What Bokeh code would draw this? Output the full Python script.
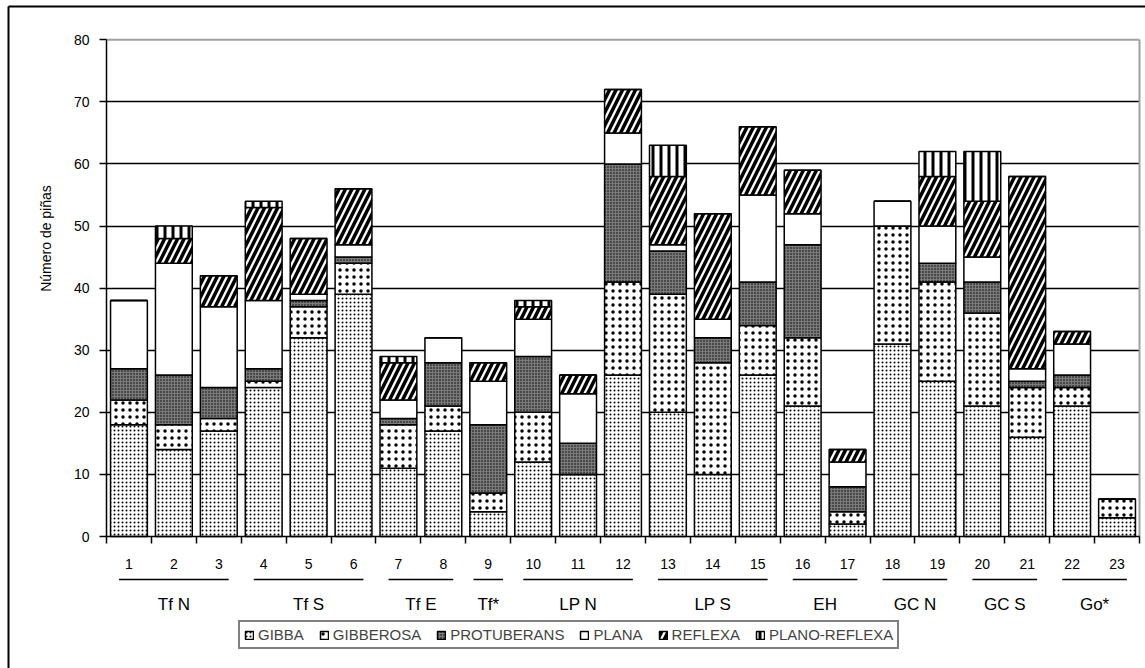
from bokeh.plotting import figure
from bokeh.models import ColumnDataSource, FixedTicker, Range1d, Legend, LegendItem
from bokeh.embed import file_html
from bokeh.resources import INLINE
from bokeh.core.properties import value
import math

# ---------------- data ----------------
sites = [str(i) for i in range(1, 24)]
gibba        = [18, 14, 17, 24, 32, 39, 11, 17, 4, 12, 10, 26, 20, 10, 26, 21, 2, 31, 25, 21, 16, 21, 3]
gibberosa    = [4, 4, 2, 1, 5, 5, 7, 4, 3, 8, 0, 15, 19, 18, 8, 11, 2, 19, 16, 15, 8, 3, 3]
protuberans  = [5, 8, 5, 2, 1, 1, 1, 7, 11, 9, 5, 19, 7, 4, 7, 15, 4, 0, 3, 5, 1, 2, 0]
plana        = [11, 18, 13, 11, 1, 2, 3, 4, 7, 6, 8, 5, 1, 3, 14, 5, 4, 4, 6, 4, 2, 5, 0]
reflexa      = [0, 4, 5, 15, 9, 9, 6, 0, 3, 2, 3, 7, 11, 17, 11, 7, 2, 0, 8, 9, 31, 2, 0]
plano_reflexa= [0, 2, 0, 1, 0, 0, 1, 0, 0, 1, 0, 0, 5, 0, 0, 0, 0, 0, 4, 8, 0, 0, 0]

series_names = ["GIBBA", "GIBBEROSA", "PROTUBERANS", "PLANA", "REFLEXA", "PLANO-REFLEXA"]
series_values = [gibba, gibberosa, protuberans, plana, reflexa, plano_reflexa]

groups      = ["Tf N", "Tf S", "Tf E", "Tf*", "LP N", "LP S", "EH", "GC N", "GC S", "Go*"]
group_first = [1, 4, 7, 9, 10, 13, 16, 18, 20, 22]
group_last  = [3, 6, 8, 9, 12, 15, 17, 19, 21, 23]

y_ticks = [0, 10, 20, 30, 40, 50, 60, 70, 80]
y_title = "Número de piñas"

# ---------------- styles ----------------
FONT = "Liberation Sans"
styles = [
    dict(fill_color="white", hatch_pattern="dot", hatch_scale=4, hatch_weight=0.8, hatch_color="black"),
    dict(fill_color="white", hatch_pattern="dot", hatch_scale=7, hatch_weight=0.2, hatch_color="black"),
    dict(fill_color="#7a7a7a", hatch_pattern="dot", hatch_scale=3, hatch_weight=1, hatch_color="black"),
    dict(fill_color="white"),
    dict(fill_color="white", hatch_pattern="right_diagonal_line", hatch_scale=13, hatch_weight=3.5, hatch_color="black"),
    dict(fill_color="white", hatch_pattern="vertical_line", hatch_scale=8, hatch_weight=3, hatch_color="black"),
]

n = len(sites)
y_top = y_ticks[-1]
W, H = 1145, 668
# plot-area placement inside the canvas (pixels)
PL, PR, PT, PB = 106, 1139, 39.3, 536
sx = (PR - PL) / n
sy = (PB - PT) / y_top
x_range = Range1d(-PL / sx, n + (W - PR) / sx)
y_range = Range1d(-(H - PB) / sy, y_top + PT / sy)

def px_x(v):
    return (v - PL) / sx

def px_y(v):
    return (PB - v) / sy

p = figure(width=W, height=H, output_backend="svg", toolbar_location=None,
           x_range=x_range, y_range=y_range,
           min_border_left=0, min_border_right=0, min_border_top=0, min_border_bottom=0,
           background_fill_color="white", border_fill_color="white")
p.outline_line_color = None
p.xgrid.visible = False

# horizontal gridlines (under the bars)
p.ygrid.ticker = FixedTicker(ticks=y_ticks[1:-1])
p.ygrid.cross_bounds = (0, n)
p.ygrid.grid_line_color = "black"
p.ygrid.grid_line_width = 1.5

# plot area border (top / right, gray)
p.segment(x0=[0, n], y0=[y_top, 0], x1=[n, n], y1=[y_top, y_top], line_color="#a0a0a0", line_width=2)

# outer chart frame (left / top; right and bottom fall outside the picture)
p.segment(x0=[px_x(8), px_x(8)], y0=[px_y(H + 20), px_y(6)],
          x1=[px_x(8), px_x(W + 20)], y1=[px_y(6), px_y(6)],
          line_color="black", line_width=2)

# stacked bars
xc = [i + 0.5 for i in range(n)]
bottoms = [0.0] * n
renderers = []
for name, vals, st in zip(series_names, series_values, styles):
    tops = [b + v for b, v in zip(bottoms, vals)]
    src = ColumnDataSource(dict(x=xc, bottom=bottoms, top=tops))
    r = p.vbar(x="x", bottom="bottom", top="top", width=0.82, source=src,
               line_color="black", line_width=1.5, **st)
    renderers.append(r)
    bottoms = tops

# axes
xa = p.xaxis[0]
xa.fixed_location = 0
xa.bounds = (0, n)
xa.ticker = FixedTicker(ticks=xc, minor_ticks=list(range(n + 1)))
xa.major_label_overrides = {x: s for x, s in zip(xc, sites)}
xa.major_tick_out = 0
xa.major_tick_in = 0
xa.minor_tick_out = 7
xa.minor_tick_in = 0
xa.minor_tick_line_color = "black"
xa.minor_tick_line_width = 1.5
xa.axis_line_width = 1.5
xa.major_label_standoff = 15
xa.major_label_text_font = FONT
xa.major_label_text_font_size = "14px"
xa.major_label_text_color = "black"

ya = p.yaxis[0]
ya.fixed_location = 0
ya.bounds = (0, y_top)
ya.ticker = FixedTicker(ticks=y_ticks, minor_ticks=[])
ya.major_tick_out = 7
ya.major_tick_in = 0
ya.major_tick_line_width = 1.5
ya.axis_line_width = 1.5
ya.major_label_standoff = 10
ya.major_label_text_font = FONT
ya.major_label_text_font_size = "14px"
ya.major_label_text_color = "black"

# y axis title
p.text(x=[px_x(45)], y=[px_y(238)], text=[y_title], angle=math.pi / 2,
       text_align="center", text_baseline="middle", text_font=value(FONT),
       text_font_size="14px", text_color="black")

# group underlines and labels
line_y = px_y(579)
label_y = px_y(604)
x0s, x1s, gcs = [], [], []
for f, l in zip(group_first, group_last):
    pad = 0.22 if l > f else 0.33
    x0s.append(f - 0.5 - pad)
    x1s.append(l - 0.5 + pad)
    gcs.append((f + l) / 2 - 0.5)
p.segment(x0=x0s, x1=x1s, y0=[line_y] * len(groups), y1=[line_y] * len(groups),
          line_color="black", line_width=1.5)
p.text(x=gcs, y=[label_y] * len(groups), text=groups, text_align="center",
       text_baseline="middle", text_font=value(FONT), text_font_size="17px", text_color="black")

# legend
legend = Legend(items=[LegendItem(label=nm, renderers=[r]) for nm, r in zip(series_names, renderers)],
                orientation="horizontal", location=(238, 19),
                glyph_width=10, glyph_height=10, spacing=15, padding=4, margin=0,
                label_standoff=4, label_text_font=FONT, label_text_font_size="15px",
                label_height=13, border_line_color="black", border_line_width=2,
                background_fill_alpha=1)
p.add_layout(legend, "center")

open("out.html", "w").write(file_html(p, INLINE))
